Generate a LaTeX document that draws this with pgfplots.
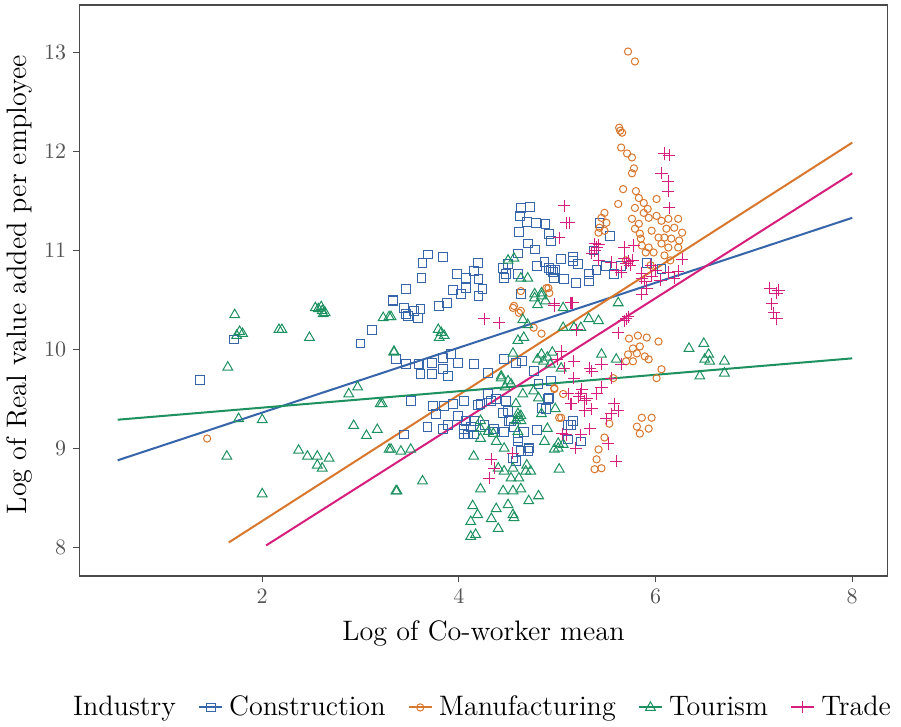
\documentclass[border=0pt]{standalone}
\usepackage{pgfplots}
\pgfplotsset{compat=1.18}
\definecolor{cCon}{HTML}{3765AA}
\definecolor{cMan}{HTML}{D8772E}
\definecolor{cTou}{HTML}{1E9160}
\definecolor{cTra}{HTML}{D61F7C}
\definecolor{frame}{HTML}{4A4A4A}
\definecolor{ticktext}{HTML}{555555}
\begin{document}
\begin{tikzpicture}
\begin{axis}[
  scale only axis,
  width=402pt, height=284pt,
  xmin=0.14, xmax=8.36, ymin=7.71, ymax=13.48,
  xtick={2,4,6,8}, ytick={8,9,10,11,12,13},
  tick pos=left, tick align=outside,
  major tick length=3pt,
  tick style={draw=frame, line width=0.6pt},
  axis line style={draw=frame, line width=0.7pt},
  ticklabel style={font=\fontsize{11}{13}\selectfont, text=ticktext},
  xlabel={Log of Co-worker mean},
  ylabel={Log of Real value added per employee},
  label style={font=\fontsize{14}{16}\selectfont},
  xlabel style={at={(axis description cs:0.5,-0.1)}, anchor=center},
  ylabel style={at={(axis description cs:-0.074,0.51)}, anchor=center},
  legend columns=5,
  legend style={at={(axis description cs:0.497,-0.23)}, anchor=center, draw=none,
    font=\fontsize{14}{16}\selectfont, column sep=3pt,
    /tikz/every even column/.append style={column sep=9pt},
    /tikz/every odd column/.append style={column sep=1pt}},
  legend image code/.code={\draw[mark repeat=2, mark phase=2] plot coordinates {(0pt,0pt) (5.75pt,0pt) (11.5pt,0pt)};},
]
\addlegendimage{empty legend}\addlegendentry{Industry}
\addlegendimage{cCon, line width=1pt, mark=square, mark size=2.2pt, mark options={line width=0.5pt}}\addlegendentry{Construction}
\addlegendimage{cMan, line width=1pt, mark=o, mark size=1.8pt, mark options={line width=0.5pt}}\addlegendentry{Manufacturing}
\addlegendimage{cTou, line width=1pt, mark=triangle, mark size=2.8pt, mark options={line width=0.5pt}}\addlegendentry{Tourism}
\addlegendimage{cTra, line width=1pt, mark=+, mark size=3pt, mark options={line width=0.5pt}}\addlegendentry{Trade}

% Construction
\addplot[only marks, mark=square, mark size=2.2pt, draw=cCon, mark options={line width=0.5pt}, forget plot] table {
x y
1.37 9.69
1.71 10.10
3.00 10.06
3.12 10.20
3.33 10.49
3.36 9.90
4.63 11.43
4.72 11.44
4.62 11.35
4.69 11.29
4.78 11.28
4.61 11.19
4.88 11.27
4.92 11.17
4.94 11.10
4.70 11.07
4.77 11.01
4.60 10.97
4.79 10.84
4.87 10.88
4.94 10.80
4.96 10.78
4.92 10.82
4.98 10.80
5.04 10.91
5.07 10.71
4.97 10.72
5.16 10.89
5.19 10.67
3.69 10.96
3.63 10.87
3.84 10.93
3.62 10.72
4.19 10.87
4.15 10.79
3.98 10.76
4.07 10.72
4.20 10.71
3.94 10.60
4.02 10.56
4.24 10.61
4.20 10.54
4.07 10.62
4.45 10.82
4.46 10.72
4.48 10.76
3.46 10.61
3.33 10.50
3.44 10.42
3.46 10.36
3.48 10.34
3.54 10.39
3.61 10.41
3.58 10.32
3.80 10.44
3.88 10.47
3.46 9.85
3.59 9.85
3.73 9.86
3.84 9.91
3.92 9.95
3.99 9.86
3.61 9.75
3.73 9.75
3.84 9.80
3.89 9.73
3.51 9.48
3.74 9.43
3.85 9.43
3.77 9.35
3.94 9.45
4.05 9.48
4.19 9.44
3.68 9.22
3.84 9.20
3.99 9.33
4.07 9.28
4.12 9.22
3.44 9.14
3.89 9.24
4.05 9.15
4.15 9.14
4.30 9.55
4.38 9.50
4.48 9.48
4.36 9.20
4.45 9.36
4.51 9.28
4.56 9.22
4.60 9.07
4.63 8.97
4.70 8.97
4.55 8.90
4.58 8.87
4.79 9.19
4.91 9.50
4.81 9.65
5.11 9.24
5.16 9.28
5.11 9.09
4.15 9.85
4.30 9.76
4.46 9.90
4.58 9.86
4.64 9.88
4.76 9.78
4.94 9.68
4.92 9.51
4.84 9.41
4.89 9.40
5.14 9.24
5.24 9.07
4.50 9.38
4.53 9.28
4.66 9.17
4.60 9.10
4.71 9.00
4.22 9.45
4.33 9.48
4.15 9.28
4.05 9.20
4.09 9.14
4.35 9.17
4.46 9.17
4.26 9.24
5.43 11.28
5.54 11.15
5.37 11.00
5.58 10.76
5.32 10.69
4.50 10.86
4.60 10.76
4.63 10.56
5.32 10.76
5.21 10.86
5.16 10.93
5.65 10.84
5.91 10.87
6.06 10.81
5.40 10.80
5.50 10.84
};

% Manufacturing
\addplot[only marks, mark=o, mark size=1.8pt, draw=cMan, mark options={line width=0.5pt}, forget plot] table {
x y
1.44 9.10
5.72 13.01
5.79 12.91
5.63 12.24
5.66 12.19
5.64 12.21
5.65 12.04
5.71 11.98
5.76 11.94
5.78 11.83
5.76 11.78
5.67 11.62
5.62 11.47
6.01 11.52
5.83 11.53
5.79 11.43
5.88 11.38
5.93 11.33
5.76 11.32
5.83 11.27
6.01 11.35
6.06 11.30
6.13 11.32
6.23 11.32
6.19 11.23
6.11 11.22
5.79 11.22
5.84 11.17
5.96 11.20
6.03 11.13
6.09 11.13
6.16 11.12
6.24 11.10
6.06 11.07
6.13 11.03
6.23 11.03
5.93 11.03
5.86 11.05
5.98 10.98
6.09 10.95
6.27 11.18
5.48 11.38
5.45 11.33
5.50 11.28
5.43 11.23
5.48 11.20
5.42 11.18
5.73 10.11
5.82 10.14
5.91 10.12
6.03 10.08
5.77 10.01
5.84 10.03
5.72 9.95
5.81 9.96
5.89 9.93
5.70 9.88
5.77 9.88
5.93 9.90
6.06 9.80
6.01 9.71
5.57 9.71
5.86 9.31
5.96 9.31
5.81 9.22
5.93 9.20
5.84 9.15
5.53 9.25
5.48 9.11
5.42 8.99
5.40 8.89
5.38 8.79
5.45 8.80
4.91 10.62
4.56 10.44
4.63 10.39
4.97 9.60
5.04 9.31
4.63 10.59
4.55 10.42
4.61 10.37
4.92 10.57
4.89 10.62
4.76 10.22
4.84 10.16
4.97 9.61
5.06 9.55
5.02 9.31
5.85 11.12
5.90 10.98
5.70 10.90
5.95 10.85
6.15 10.90
5.80 11.60
5.88 11.48
5.92 11.42
};

% Tourism
\addplot[only marks, mark=triangle, mark size=2.8pt, draw=cTou, mark options={line width=0.5pt}, forget plot] table {
x y
1.72 10.35
1.74 10.14
1.80 10.16
1.77 10.18
1.65 9.82
2.20 10.20
2.17 10.20
2.48 10.12
2.57 10.41
2.61 10.39
2.64 10.37
2.54 10.42
2.60 10.43
2.62 10.36
3.23 10.32
3.31 10.33
3.34 9.97
2.88 9.55
2.97 9.62
3.20 9.45
1.76 9.30
2.00 9.29
2.93 9.23
3.06 9.13
3.17 9.19
3.29 8.99
1.64 8.92
2.37 8.98
2.46 8.92
2.56 8.92
2.68 8.90
2.56 8.83
2.61 8.80
2.00 8.54
3.36 8.57
3.29 10.33
3.82 10.17
3.79 10.20
3.85 10.14
3.80 10.12
3.34 9.98
4.50 10.90
4.56 10.92
4.63 10.72
4.70 10.72
4.84 10.54
4.77 10.52
4.88 10.49
4.80 10.45
5.06 10.42
5.06 10.22
5.17 10.22
4.60 10.09
4.66 10.12
4.55 9.96
4.84 9.95
4.90 9.92
5.04 9.81
4.43 9.73
3.22 9.45
3.31 8.99
3.41 8.97
3.51 8.99
3.37 8.57
3.63 8.67
4.15 8.92
4.22 8.59
4.14 8.42
4.19 8.33
4.12 8.26
4.33 8.29
4.38 8.39
4.40 8.19
4.12 8.11
4.17 8.13
4.50 8.43
4.55 8.33
4.56 8.30
4.45 8.57
4.55 8.57
4.63 8.59
4.71 8.47
4.81 8.52
4.46 8.77
4.53 8.70
4.61 8.70
4.68 8.77
4.73 8.77
4.40 8.80
4.55 8.80
4.69 8.83
4.60 9.17
4.63 9.28
4.60 9.35
4.22 9.28
4.22 9.10
4.30 9.17
4.38 9.07
4.46 9.00
4.87 9.07
4.97 8.99
5.06 9.04
5.02 8.79
4.81 9.51
4.65 9.55
4.58 9.45
4.84 9.35
4.76 9.58
4.77 10.56
4.84 10.57
5.62 10.47
5.32 10.31
5.24 10.22
5.42 10.29
5.45 9.95
5.60 9.90
6.34 10.01
6.49 10.06
6.54 9.95
6.55 9.88
6.45 9.73
6.70 9.76
6.70 9.88
6.50 9.90
4.43 9.71
4.86 9.88
4.93 9.85
4.80 9.90
4.50 9.68
4.53 9.65
4.47 9.62
4.60 9.31
4.58 9.28
4.63 9.33
4.22 9.20
4.35 9.15
5.01 9.00
5.01 9.05
4.90 9.20
4.98 9.40
4.95 9.97
4.65 10.30
4.70 10.25
};

% Trade
\addplot[only marks, mark=+, mark size=3pt, draw=cTra, mark options={line width=0.5pt}, forget plot] table {
x y
7.16 10.62
7.23 10.57
7.25 10.60
7.18 10.46
7.20 10.37
7.23 10.31
6.09 11.98
6.14 11.96
6.06 11.78
6.13 11.70
6.13 11.60
6.14 11.43
5.72 10.89
5.70 10.87
5.74 10.85
5.77 10.90
5.68 10.92
5.40 11.03
5.42 11.06
5.38 11.00
5.68 11.03
5.86 10.77
6.23 10.79
6.27 10.91
5.91 10.62
5.09 11.28
5.12 11.28
5.78 11.05
5.02 11.13
4.26 10.31
4.41 10.27
4.97 10.44
5.16 10.47
5.38 11.07
5.35 10.97
4.97 10.46
5.14 10.47
5.70 10.31
5.72 10.33
5.68 10.29
5.62 10.17
5.86 10.56
5.89 10.69
5.86 10.72
5.96 10.74
6.19 10.72
6.13 10.78
5.07 9.81
5.33 9.81
5.35 9.78
5.17 9.71
5.55 9.71
5.11 9.55
5.24 9.55
5.28 9.48
5.14 9.45
5.40 9.55
5.58 9.45
5.55 9.35
5.62 9.38
5.28 9.38
5.33 9.20
5.24 9.14
5.09 9.14
5.19 9.00
5.52 9.05
5.60 8.87
5.04 9.98
5.17 9.88
5.45 9.85
5.65 9.85
4.33 8.89
4.36 8.80
4.31 8.70
4.55 8.95
5.05 9.15
5.07 11.45
5.20 10.20
5.25 9.60
5.22 9.52
5.30 9.50
5.45 9.62
5.35 9.40
5.50 9.30
5.00 9.90
5.42 10.90
5.55 10.88
5.60 10.80
5.65 10.78
6.00 10.80
6.05 10.70
5.95 10.85
};

% fitted lines
\addplot[cCon, line width=1pt, forget plot] coordinates {(0.53,8.88) (8,11.33)};
\addplot[cMan, line width=1pt, forget plot] coordinates {(1.66,8.05) (8,12.09)};
\addplot[cTou, line width=1pt, forget plot] coordinates {(0.53,9.29) (8,9.91)};
\addplot[cTra, line width=1pt, forget plot] coordinates {(2.04,8.02) (8,11.78)};
\end{axis}
\path ([xshift=6pt,yshift=2.5pt]current axis.north east);
\end{tikzpicture}
\end{document}
